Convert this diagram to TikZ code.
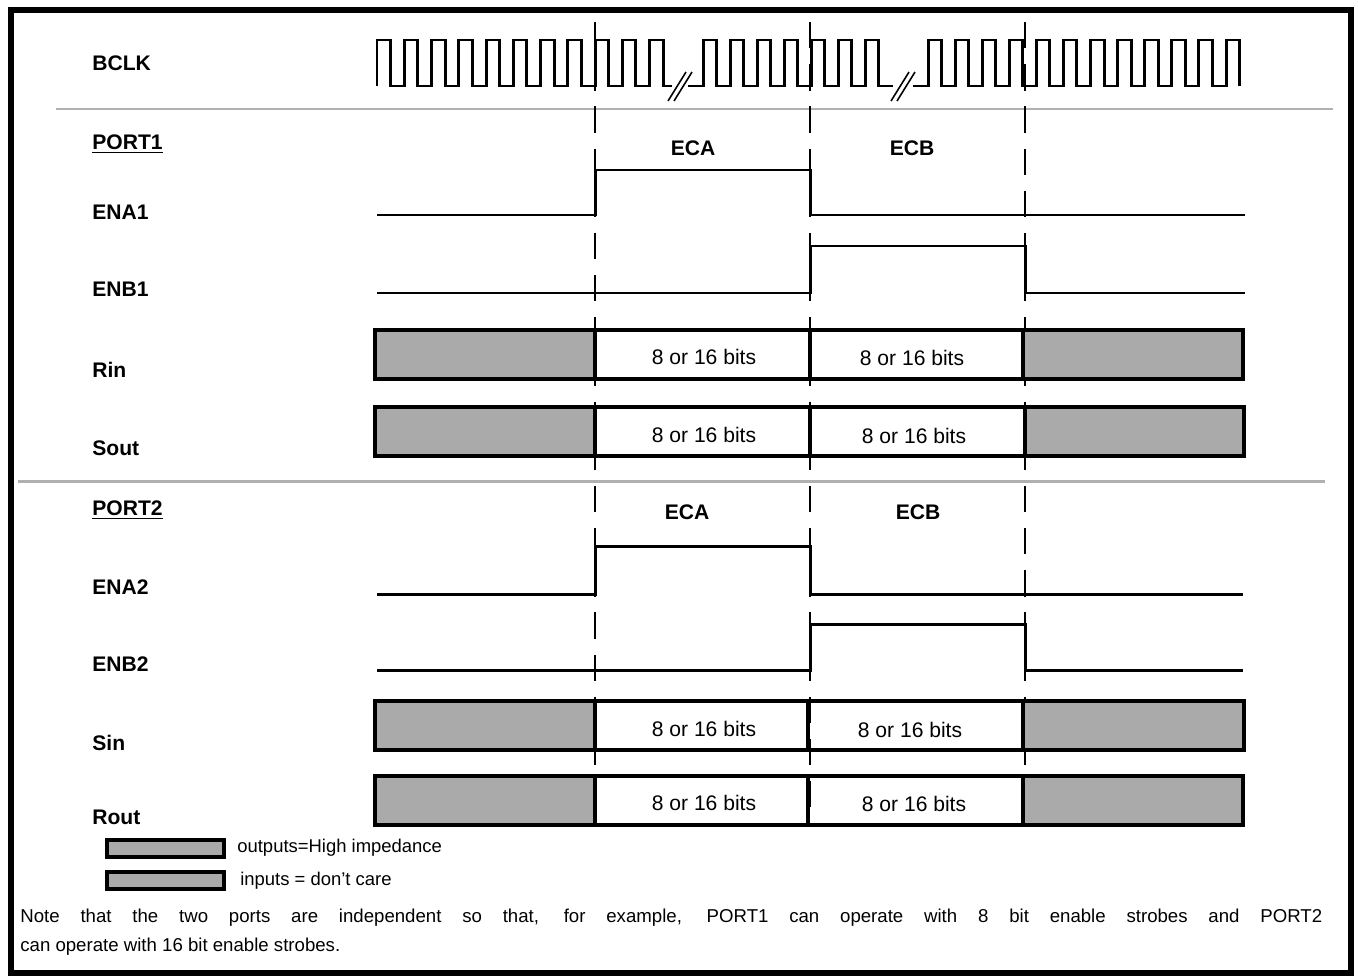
\documentclass[tikz,border=0pt]{standalone}
\usepackage{fontspec}
\setmainfont{Liberation Sans}
\definecolor{hizgray}{HTML}{AAAAAA}
\definecolor{sepgray}{HTML}{B0B0B0}
\tikzset{
  lbl/.style={font=\fontsize{12}{14}\selectfont\bfseries, anchor=west, inner sep=0pt},
  bits/.style={font=\fontsize{12}{14}\selectfont, inner sep=0pt},
  legtext/.style={font=\fontsize{10.5}{12}\selectfont, anchor=west, inner sep=0pt},
  notetext/.style={font=\fontsize{10.6}{13}\selectfont, anchor=base west, inner sep=0pt},
  wave/.style={line width=1.7pt},
  bus/.style={line width=2.2pt},
  hiz/.style={bus, fill=hizgray},
  sep/.style={line width=1.7pt, draw=sepgray},
  syncline/.style={line width=0.6pt, dash pattern=on 15pt off 9pt},
  breakmark/.style={line width=0.9pt}
}
\begin{document}
\begin{tikzpicture}[x=0.02cm, y=-0.02cm]
	\useasboundingbox (0,0) rectangle (1358,977);
	\draw[line width=3pt] (11,10) rectangle (1351,973);

	% separators
	\draw[sep] (56,109) -- (1333,109);
	\draw[sep] (18,481) -- (1325,481);

	% signal names
	\node[lbl] (bclk) at (92,63) {BCLK};
	\node[lbl] (port1) at (92,144) {\underline{PORT1}};
	\node[lbl] (ena1) at (92,212) {ENA1};
	\node[lbl] (enb1) at (92,289) {ENB1};
	\node[lbl] (rin) at (92,370) {Rin};
	\node[lbl] (sout) at (92,448) {Sout};
	\node[lbl] (port2) at (92,510) {\underline{PORT2}};
	\node[lbl] (ena2) at (92,587) {ENA2};
	\node[lbl] (enb2) at (92,664) {ENB2};
	\node[lbl] (sin) at (92,743) {Sin};
	\node[lbl] (rout) at (92,817) {Rout};

	% timing marks
	\draw[syncline] (595,22) -- (595,826);
	\draw[syncline] (810,22) -- (810,826);
	\draw[syncline] (1025,22) -- (1025,826);

	% clock
	\draw[wave] (377,86) \foreach \k in {0,...,10} { -- (377+27.25*\k,86) -- (377+27.25*\k,40) -- (390.6+27.25*\k,40) -- (390.6+27.25*\k,86) } -- (672,86);
	\draw[wave] (688,86) \foreach \k in {0,...,6} { -- (703+27*\k,86) -- (703+27*\k,40) -- (716.5+27*\k,40) -- (716.5+27*\k,86) } -- (893,86);
	\draw[wave] (913,86) \foreach \k in {0,...,11} { -- (928+27.09*\k,86) -- (928+27.09*\k,40) -- (941.5+27.09*\k,40) -- (941.5+27.09*\k,86) };
	\draw[breakmark] (668,101) -- (686,72);
	\draw[breakmark] (674,101) -- (692,72);
	\draw[breakmark] (891,101) -- (909,72);
	\draw[breakmark] (897,101) -- (915,72);

	% PORT1
	\node[lbl, anchor=center] (eca1) at (693,148) {ECA};
	\node[lbl, anchor=center] (ecb1) at (912,148) {ECB};
	\draw[wave] (377,215) -- (595,215) -- (595,170) -- (810,170) -- (810,215) -- (1245,215);
	\draw[wave] (377,293) -- (810,293) -- (810,246) -- (1025,246) -- (1025,293) -- (1245,293);
	\draw[hiz] (375,330) rectangle (595,379);
	\draw[bus] (595,330) rectangle (810,379);
	\draw[bus] (810,330) rectangle (1023,379);
	\draw[hiz] (1023,330) rectangle (1243,379);
	\node[bits] (rina) at (704,357) {8 or 16 bits};
	\node[bits] (rinb) at (912,358) {8 or 16 bits};
	\draw[hiz] (375,407) rectangle (595,456);
	\draw[bus] (595,407) rectangle (810,456);
	\draw[bus] (810,407) rectangle (1025,456);
	\draw[hiz] (1025,407) rectangle (1244,456);
	\node[bits] (souta) at (704,435) {8 or 16 bits};
	\node[bits] (soutb) at (914,436) {8 or 16 bits};

	% PORT2
	\node[lbl, anchor=center] (eca2) at (687,512) {ECA};
	\node[lbl, anchor=center] (ecb2) at (918,512) {ECB};
	\draw[wave] (377,594) -- (595,594) -- (595,546) -- (810,546) -- (810,594) -- (1243,594);
	\draw[wave] (377,670) -- (810,670) -- (810,624) -- (1025,624) -- (1025,670) -- (1243,670);
	\draw[hiz] (375,701) rectangle (595,750);
	\draw[bus] (595,701) rectangle (808,750);
	\draw[bus] (808,701) rectangle (1023,750);
	\draw[hiz] (1023,701) rectangle (1244,750);
	\node[bits] (sina) at (704,729) {8 or 16 bits};
	\node[bits] (sinb) at (910,730) {8 or 16 bits};
	\draw[hiz] (375,776) rectangle (595,825);
	\draw[bus] (595,776) rectangle (808,825);
	\draw[bus] (808,776) rectangle (1023,825);
	\draw[hiz] (1023,776) rectangle (1243,825);
	\node[bits] (routa) at (704,803) {8 or 16 bits};
	\node[bits] (routb) at (914,804) {8 or 16 bits};

	% legend
	\draw[hiz] (107,840) rectangle (224,857);
	\node[legtext] (legout) at (237,848) {outputs=High impedance};
	\draw[hiz] (107,872) rectangle (224,889);
	\node[legtext] (legin) at (240,881) {inputs = don't care};

	% note
	\node[notetext] (note1) at (20,922) {\makebox[741pt][s]{Note that the two ports are independent so that, for example, PORT1 can operate with 8 bit enable strobes and PORT2}};
	\node[notetext] (note2) at (20,951) {can operate with 16 bit enable strobes.};
\end{tikzpicture}
\end{document}
